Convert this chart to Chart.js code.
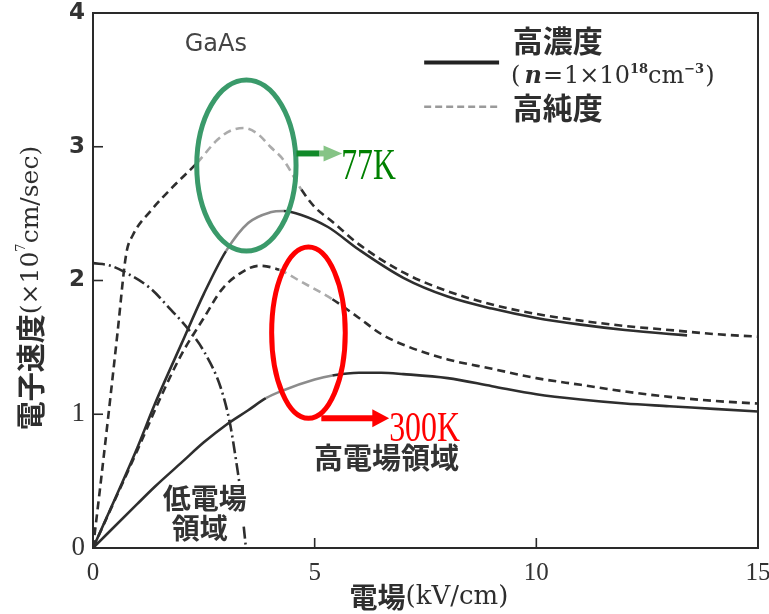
<!DOCTYPE html>
<html>
<head>
<meta charset="utf-8">
<script src="https://cdn.jsdelivr.net/npm/chart.js@4/dist/chart.umd.min.js"></script>
<style>
  html, body { margin: 0; padding: 0; background: #fff; }
  #wrap { width: 769px; height: 614px; }
</style>
</head>
<body>
<div id="wrap"><canvas id="c" width="769" height="614"></canvas></div>
<script>
// Electron drift velocity in GaAs vs. electric field (kV/cm), velocity in 1e7 cm/s

// 77 K, high purity
const pure77Field = [0, 0.15, 0.35, 0.55, 0.75, 0.9, 1.3, 1.8, 2.35, 2.8, 3.1, 3.4, 3.7, 4.0, 4.3, 4.7, 5.0, 5.4, 6.0, 7.0, 8.0, 9.0, 10.0, 11.0, 12.0, 13.0, 14.0, 15.0];
const pure77Speed = [0, 0.42, 1.0, 1.6, 2.2, 2.34, 2.52, 2.7, 2.88, 3.05, 3.12, 3.14, 3.1, 3.0, 2.9, 2.68, 2.55, 2.44, 2.27, 2.06, 1.92, 1.82, 1.75, 1.70, 1.66, 1.63, 1.60, 1.58];

// 77 K, heavily doped (n = 1e18 cm^-3)
const doped77Field = [0, 0.5, 1.0, 1.4, 2.0, 2.5, 3.0, 3.5, 4.0, 4.3, 4.7, 5.3, 6.0, 7.0, 8.0, 9.0, 10.0, 11.0, 12.0, 13.0, 13.4];
const doped77Speed = [0, 0.37, 0.75, 1.08, 1.53, 1.9, 2.22, 2.43, 2.51, 2.52, 2.49, 2.4, 2.23, 2.02, 1.88, 1.79, 1.72, 1.67, 1.63, 1.60, 1.59];

// 300 K, high purity
const pure300Field = [0, 1.0, 1.6, 2.0, 2.5, 2.9, 3.3, 3.75, 4.2, 4.7, 5.4, 6.0, 6.5, 7.0, 8.0, 9.0, 10.0, 11.0, 12.0, 13.0, 14.0, 15.0];
const pure300Speed = [0, 0.73, 1.18, 1.45, 1.72, 1.93, 2.05, 2.11, 2.08, 1.99, 1.86, 1.72, 1.6, 1.52, 1.41, 1.34, 1.27, 1.22, 1.17, 1.13, 1.10, 1.08];

// 300 K, heavily doped
const doped300Field = [0, 1.0, 1.4, 2.0, 2.5, 3.0, 3.5, 3.9, 4.3, 5.0, 5.4, 6.0, 6.5, 7.0, 8.0, 9.0, 10.0, 11.0, 12.0, 13.0, 14.0, 15.0];
const doped300Speed = [0, 0.33, 0.46, 0.64, 0.79, 0.92, 1.03, 1.12, 1.18, 1.26, 1.29, 1.31, 1.31, 1.30, 1.27, 1.21, 1.15, 1.11, 1.08, 1.06, 1.04, 1.02];

// boundary of the low-field region (broken where its label sits)
const lowFieldX = [0, 0.4, 0.79, 1.3, 1.76, 2.14, 2.52, 2.88, 3.09, 3.27, 3.3, 3.36, 3.4, 3.45];
const lowFieldY = [2.13, 2.11, 2.05, 1.94, 1.78, 1.64, 1.46, 1.2, 0.93, 0.56, 0.49, null, 0.16, 0];

const xTicks = [0, 5, 10, 15];
const yTicks = [0, 1, 2, 3, 4];

const pairs = (xs, ys) => xs.map((x, i) => ({ x, y: ys[i] }));

const INK = '#2e2e2e';
const SOFT_SOLID = '#8c8c8c';
const SOFT_DASH = '#ababab';

// field range over which a curve is drawn in the lighter tone
function tone(lo, hi, soft) {
  return ctx => {
    const m = (ctx.p0.parsed.x + ctx.p1.parsed.x) / 2;
    return (m >= lo && m <= hi) ? soft : INK;
  };
}

function curve(label, data, dash, lo, hi, soft) {
  return {
    label, data,
    borderColor: INK,
    borderWidth: 2.6,
    borderDash: dash,
    pointRadius: 0,
    fill: false,
    spanGaps: false,
    cubicInterpolationMode: 'monotone',
    segment: { borderColor: tone(lo, hi, soft) }
  };
}

const SERIF = '"Liberation Serif", "DejaVu Serif", serif';
const WIDE_SERIF = '"DejaVu Serif", serif';
const CJK = '"Noto Sans CJK JP", sans-serif';

function runs(ctx, parts, x, y, align) {
  let total = 0;
  parts.forEach(p => { ctx.font = p.font; p.w = ctx.measureText(p.text).width + (p.gap || 0); total += p.w; });
  let cx = align === 'center' ? x - total / 2 : x;
  ctx.textBaseline = 'middle';
  ctx.textAlign = 'left';
  parts.forEach(p => {
    ctx.font = p.font;
    ctx.fillStyle = p.color || '#2e2e2e';
    ctx.fillText(p.text, cx, y + (p.dy || 0));
    cx += p.w;
  });
}

const decor = {
  id: 'decor',
  afterDatasetsDraw(chart) {
    const { ctx, chartArea: a, scales: { x, y } } = chart;
    const px = v => x.getPixelForValue(v);
    const py = v => y.getPixelForValue(v);
    ctx.save();

    // plot frame
    ctx.strokeStyle = '#2a2a2a';
    ctx.lineWidth = 2;
    ctx.strokeRect(a.left, a.top, a.right - a.left, a.bottom - a.top);

    // inward ticks
    ctx.lineWidth = 1.6;
    [1, 2, 3].forEach(v => {
      ctx.beginPath(); ctx.moveTo(a.left, py(v)); ctx.lineTo(a.left + 10, py(v)); ctx.stroke();
    });
    [5, 10].forEach(v => {
      ctx.beginPath(); ctx.moveTo(px(v), a.bottom); ctx.lineTo(px(v), a.bottom - 10); ctx.stroke();
    });

    // region labels
    ctx.textAlign = 'center';
    ctx.textBaseline = 'middle';
    ctx.fillStyle = '#333';
    ctx.font = 'bold 29px ' + CJK;
    ctx.fillText('高電場領域', px(6.62), py(0.67));
    ctx.font = 'bold 28px ' + CJK;
    ctx.fillText('低電場', px(2.52), py(0.37));
    ctx.fillText('領域', px(2.41), py(0.15));
    ctx.fillStyle = '#444';
    ctx.font = '24px "DejaVu Sans", sans-serif';
    ctx.fillText('GaAs', px(2.77), py(3.76));

    // legend
    ctx.strokeStyle = '#222';
    ctx.lineWidth = 4;
    ctx.setLineDash([]);
    ctx.beginPath(); ctx.moveTo(px(7.47), py(3.63)); ctx.lineTo(px(9.16), py(3.63)); ctx.stroke();
    ctx.strokeStyle = '#9a9a9a';
    ctx.lineWidth = 2.5;
    ctx.setLineDash([7, 4]);
    ctx.beginPath(); ctx.moveTo(px(7.47), py(3.30)); ctx.lineTo(px(9.16), py(3.30)); ctx.stroke();
    ctx.setLineDash([]);
    runs(ctx, [{ text: '高濃度', font: 'bold 30px ' + CJK }], px(9.47), py(3.79), 'left');
    runs(ctx, [
      { text: '(', font: '24px ' + WIDE_SERIF, gap: 4 },
      { text: 'n', font: 'italic bold 24px ' + WIDE_SERIF, gap: 1 },
      { text: '=', font: '24px ' + WIDE_SERIF, gap: 1 },
      { text: '1×10', font: '24px ' + WIDE_SERIF },
      { text: '18', font: 'bold 13px ' + WIDE_SERIF, dy: -8 },
      { text: 'cm', font: '24px ' + WIDE_SERIF },
      { text: '−3', font: 'bold 13px ' + WIDE_SERIF, dy: -8, gap: 1 },
      { text: ')', font: '24px ' + WIDE_SERIF }
    ], px(9.43), py(3.52), 'left');
    runs(ctx, [{ text: '高純度', font: 'bold 30px ' + CJK }], px(9.47), py(3.29), 'left');

    // highlight rings
    const ring = (cx, cy, rx, ry, color) => {
      ctx.strokeStyle = color;
      ctx.lineWidth = 5;
      ctx.beginPath();
      ctx.ellipse(px(cx), py(cy), px(cx + rx) - px(cx), py(cy) - py(cy + ry), 0, 0, Math.PI * 2);
      ctx.stroke();
    };
    ring(3.46, 2.86, 1.12, 0.64, '#3a9a6a');
    ring(4.86, 1.61, 0.83, 0.64, '#ff0000');

    // 77K pointer
    const gy = py(2.95);
    ctx.fillStyle = '#118a2a';
    ctx.fillRect(px(4.59), gy - 3, px(5.11) - px(4.59), 6);
    ctx.fillStyle = '#86c486';
    ctx.fillRect(px(5.11), gy - 3, px(5.22) - px(5.11), 6);
    ctx.beginPath();
    ctx.moveTo(px(5.2), gy - 8); ctx.lineTo(px(5.62), gy); ctx.lineTo(px(5.2), gy + 8); ctx.closePath(); ctx.fill();
    ctx.save();
    ctx.translate(px(5.6), py(2.76));
    ctx.scale(0.72, 1);
    ctx.fillStyle = '#008000';
    ctx.font = '44px ' + SERIF;
    ctx.textAlign = 'left';
    ctx.textBaseline = 'alphabetic';
    ctx.fillText('77K', 0, 0);
    ctx.restore();

    // 300K pointer
    const ry = py(0.97);
    ctx.fillStyle = '#ff0000';
    ctx.fillRect(px(5.15), ry - 3, px(6.32) - px(5.15), 6);
    ctx.beginPath();
    ctx.moveTo(px(6.3), ry - 9); ctx.lineTo(px(6.68), ry); ctx.lineTo(px(6.3), ry + 9); ctx.closePath(); ctx.fill();
    ctx.save();
    ctx.translate(px(6.68), py(0.8));
    ctx.scale(0.76, 1);
    ctx.font = '42px ' + SERIF;
    ctx.textAlign = 'left';
    ctx.textBaseline = 'alphabetic';
    ctx.fillText('300K', 0, 0);
    ctx.restore();

    // axis titles
    ctx.save();
    ctx.translate(31, 288);
    ctx.rotate(-Math.PI / 2);
    runs(ctx, [
      { text: '電子速度', font: 'bold 29px ' + CJK },
      { text: '(×10', font: '25px ' + WIDE_SERIF },
      { text: '7', font: '13px ' + WIDE_SERIF, dy: -9 },
      { text: 'cm/sec)', font: '25px ' + WIDE_SERIF }
    ], 0, 0, 'center');
    ctx.restore();
    runs(ctx, [
      { text: '電場', font: 'bold 28px ' + CJK },
      { text: '(kV/cm)', font: '26px ' + WIDE_SERIF }
    ], 429, 597, 'center');

    ctx.restore();
  }
};

new Chart(document.getElementById('c'), {
  type: 'line',
  data: {
    datasets: [
      curve('77K 高純度', pairs(pure77Field, pure77Speed), [8, 5], 2.4, 4.55, SOFT_DASH),
      curve('77K 高濃度', pairs(doped77Field, doped77Speed), [], 3.0, 4.45, SOFT_SOLID),
      curve('300K 高純度', pairs(pure300Field, pure300Speed), [8, 5], 4.25, 5.6, SOFT_DASH),
      curve('300K 高濃度', pairs(doped300Field, doped300Speed), [], 4.0, 5.55, SOFT_SOLID),
      curve('低電場領域', pairs(lowFieldX, lowFieldY), [12, 4, 2, 4], 99, 99, INK)
    ]
  },
  options: {
    responsive: false,
    devicePixelRatio: 1,
    animation: false,
    layout: { padding: { top: 13, right: 11, left: 0, bottom: 0 } },
    plugins: { legend: { display: false }, tooltip: { enabled: false } },
    scales: {
      x: {
        type: 'linear', min: 0, max: 15,
        afterBuildTicks: s => { s.ticks = xTicks.map(v => ({ value: v })); },
        ticks: { padding: 10, color: '#333', font: { family: SERIF, size: 25 } },
        grid: { display: false, drawTicks: false },
        border: { display: false },
        afterFit: s => { s.height = 66; s.paddingLeft = 0; s.paddingRight = 0; }
      },
      y: {
        type: 'linear', min: 0, max: 4,
        afterBuildTicks: s => { s.ticks = yTicks.map(v => ({ value: v })); },
        ticks: {
          padding: 8, color: '#333',
          font: c => (c.tick && c.tick.value >= 2)
            ? { family: '"DejaVu Sans", sans-serif', size: 23, weight: 'bold' }
            : { family: SERIF, size: 27 }
        },
        grid: { display: false, drawTicks: false },
        border: { display: false },
        afterFit: s => { s.width = 93; s.paddingTop = 0; s.paddingBottom = 0; }
      }
    }
  },
  plugins: [decor]
});
</script>
</body>
</html>
